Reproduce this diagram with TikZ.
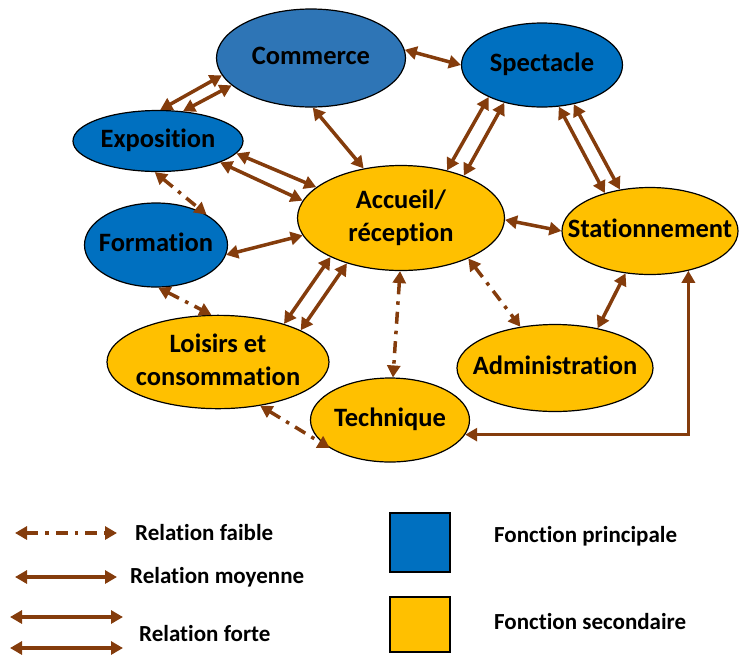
\documentclass[tikz,border=0pt]{standalone}
\usepackage{fontspec}
\setmainfont{Carlito}[RawFeature={-liga;-clig;-calt;-rlig;-dlig}]
\usepackage{xcolor}
\usepackage{tikz}
\usetikzlibrary{positioning, arrows.meta, shapes.geometric, calc}
\definecolor{mainblue}{HTML}{0070C0}
\definecolor{commblue}{HTML}{2E75B6}
\definecolor{secyellow}{HTML}{FFC000}
\definecolor{relbrown}{HTML}{843C0C}

\newcommand{\fctlabel}[1]{\makebox[0pt]{\begin{tabular}{@{}c@{}}#1\end{tabular}}}

\tikzset{
  fct/.style={ellipse, draw=black, line width=1.2pt, inner sep=0pt,
              font=\fontsize{26.5}{33}\selectfont\bfseries},
  fctmain/.style={fct, fill=mainblue},
  fctsec/.style={fct, fill=secyellow},
  rel/.style={relbrown, line width=3.5pt,
              {Triangle[length=12pt,width=13pt]}-{Triangle[length=12pt,width=13pt]}},
  relweak/.style={rel, dash pattern=on 12pt off 7pt on 3.5pt off 7pt},
  legbox/.style={draw=black, line width=1.2pt, minimum width=60pt, inner sep=0pt},
  legtext/.style={anchor=west, inner sep=0pt, font=\fontsize{23}{27}\selectfont\bfseries},
}

\begin{document}
\begin{tikzpicture}[x=1pt, y=-1pt]
    \useasboundingbox (0,0) rectangle (741,657);

    % functions
    \node[fct, fill=commblue, minimum width=189pt, minimum height=98pt] (comm) at (311,58) {\fctlabel{Commerce}};
    \node[fctmain, minimum width=161pt, minimum height=84pt] (spec) at (542,65) {\fctlabel{Spectacle}};
    \node[fctmain, minimum width=170pt, minimum height=61pt] (expo) at (158,141) {\fctlabel{Exposition}};
    \node[fctmain, minimum width=143pt, minimum height=84pt] (form) at (156,245) {\fctlabel{Formation}};
    \node[fctsec, minimum width=207pt, minimum height=105pt] (acc) at (401,218) {\fctlabel{Accueil/\\réception}};
    \node[fctsec, minimum width=176pt, minimum height=87pt] (stat) at (650,231) {\fctlabel{Stationnement}};
    \node[fctsec, minimum width=222pt, minimum height=83pt] (lois) at (218,362) {\fctlabel{Loisirs et\\consommation}};
    \node[fctsec, minimum width=159pt, minimum height=84pt] (tech) at (390,420) {\fctlabel{Technique}};
    \node[fctsec, minimum width=196pt, minimum height=87pt] (adm) at (555,368) {\fctlabel{Administration}};

    % relations
    \draw[rel] (expo.86) -- (comm.191);
    \draw[rel] (expo.50) -- (comm.199);
    \draw[rel] (comm.5) -- (spec.180);
    \draw[rel] (comm.272) -- (acc.127);
    \draw[rel] (expo.351) -- (acc.160);
    \draw[rel] (expo.341) -- (acc.170);
    \draw[relweak] (expo.264) -- (form.31);
    \draw[rel] (form.352) -- (acc.190);
    \draw[relweak] (form.273) -- (lois.98);
    \draw[rel] (lois.30) -- (acc.209);
    \draw[rel] (lois.21) -- (acc.220);
    \draw[rel] (acc.46) -- (spec.211);
    \draw[rel] (acc.34) -- (spec.225);
    \draw[rel] (spec.292) -- (stat.140);
    \draw[rel] (spec.309) -- (stat.126);
    \draw[rel] (acc.359) -- (stat.180);
    \draw[relweak] (acc.269) -- (tech.86);
    \draw[relweak] (acc.329) -- (adm.130);
    \draw[rel] (stat.240) -- (adm.43);
    \draw[rel, line width=3pt] (tech.349) -| (stat.314);
    \draw[relweak] (lois.314) -- (tech.205);

    % legend
    \coordinate (fa1) at (15,533);  \coordinate (fa2) at (117,533);
    \coordinate (mo1) at (15,577);  \coordinate (mo2) at (117,577);
    \coordinate (fo1) at (10,617);  \coordinate (fo2) at (123,617);
    \coordinate (fo3) at (10,648);  \coordinate (fo4) at (123,648);
    \draw[relweak] (fa1) -- (fa2);
    \draw[rel] (mo1) -- (mo2);
    \draw[rel] (fo1) -- (fo2);
    \draw[rel] (fo3) -- (fo4);
    \node[legtext] (lfaible) at (135,533) {Relation faible};
    \node[legtext] (lmoyenne) at (130,577) {Relation moyenne};
    \node[legtext] (lforte) at (139,634) {Relation forte};

    \node[legbox, fill=mainblue, minimum height=59pt] (legmain) at (420,542.5) {};
    \node[legbox, fill=secyellow, minimum height=55pt] (legsec) at (420,624.5) {};
    \node[legtext] (lmain) at (494,536) {Fonction principale};
    \node[legtext] (lsec) at (494,622) {Fonction secondaire};
\end{tikzpicture}
\end{document}
